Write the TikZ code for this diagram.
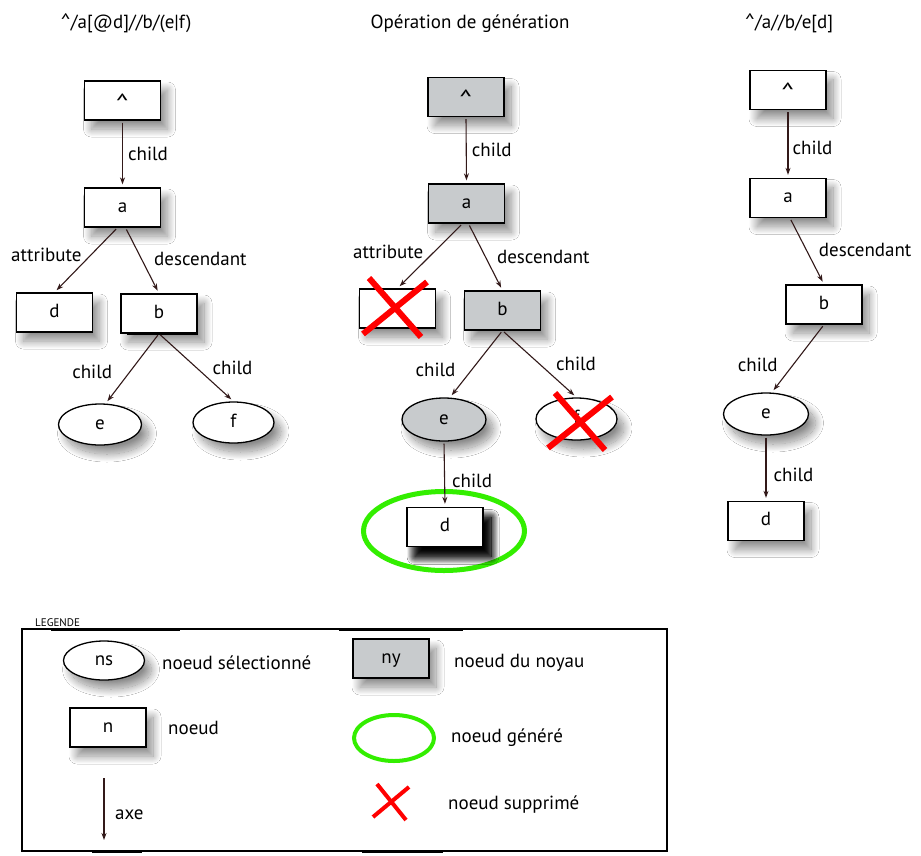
\documentclass[tikz,border=0pt]{standalone}
\usepackage{fontspec}
\setmainfont{PT Sans}
\usetikzlibrary{arrows.meta,shapes.geometric,shadows.blur}

\definecolor{nucleus}{RGB}{200,203,205}
\definecolor{gengreen}{RGB}{51,238,0}
\definecolor{delred}{RGB}{255,0,0}
\definecolor{axecol}{RGB}{50,25,25}

\tikzset{
  shade box/.style={blur shadow={shadow xshift=7pt, shadow yshift=-9pt,
      shadow blur radius=8pt, shadow blur steps=24, shadow opacity=45}},
  dark shade/.style={blur shadow={shadow xshift=8pt, shadow yshift=-10pt,
      shadow blur radius=8pt, shadow blur steps=24, shadow opacity=95}},
  nbox/.style={draw=black, line width=1.3pt, fill=white, minimum width=76pt,
      minimum height=39pt, inner sep=0pt, text height=9pt, text depth=0pt, shade box},
  nucbox/.style={nbox, fill=nucleus},
  sel/.style={ellipse, draw=black, line width=1.3pt, fill=white, minimum width=83pt,
      minimum height=41pt, inner sep=0pt, text height=9pt, text depth=0pt, shade box},
  nucsel/.style={sel, fill=nucleus},
  gen/.style={ellipse, draw=gengreen, line width=5pt, inner sep=0pt},
  axe/.style={draw=axecol, line width=1.1pt, -{Stealth[length=7pt,width=5pt]},
      shorten >=3pt, shorten <=2pt},
  lab/.style={inner sep=0pt},
  txt/.style={inner sep=0pt, anchor=base west},
  ttl/.style={inner sep=0pt, anchor=base},
  cross/.style={draw=delred, line width=6pt},
}

% the root symbol, widened and lowered to sit in the middle of a box
\newcommand{\caretsym}{\raisebox{-6pt}{\scalebox{1.45}[1.3]{\textasciicircum}}}
% the root symbol inside a path expression
\newcommand{\caretpath}{\scalebox{1.1}{\textasciicircum}}

\begin{document}
\begin{tikzpicture}[x=1pt, y=-1pt, font=\fontsize{19}{23}\selectfont]
\useasboundingbox (0,0) rectangle (921,855);
\fill[white] (0,0) rectangle (921,855);

% ---------- titles ----------
\node[ttl] (t1) at (126,28) {\caretpath/a[@d]//b/(e|f)};
\node[ttl] (t2) at (470,28) {Opération de génération};
\node[ttl] (t3) at (789,28) {\caretpath/a//b/e[d]};

% ---------- query tree ^/a[@d]//b/(e|f) ----------
\node[nbox] (L0) at (122.5,100.5) {\caretsym};
\node[nbox] (La) at (122.5,207.5) {a};
\node[nbox] (Ld) at (54.5,312.5) {d};
\node[nbox] (Lb) at (159,313.5) {b};
\node[sel] (Le) at (100,424.5) {e};
\node[sel, minimum width=81pt] (Lf) at (233.5,422.5) {f};
\draw[line width=2.6pt] ([xshift=7pt]Lb.south west) -- (Lb.south east);

\draw[axe] (L0.south) -- (La.north)
  node[lab, pos=.5, right, xshift=5pt] {child};
\draw[axe] ([xshift=-5pt]La.south) -- (Ld.north)
  node[lab, pos=.42, left, xshift=-9pt] {attribute};
\draw[axe] ([xshift=3pt]La.south) -- (Lb.north)
  node[lab, pos=.48, right, xshift=12pt] {descendant};
\draw[axe] (Lb.south) -- (Le.75)
  node[lab, pos=.55, left, xshift=-17pt] {child};
\draw[axe] (Lb.south) -- (Lf.north)
  node[lab, pos=.51, right, xshift=15pt] {child};

% ---------- generation operation ----------
\node[nucbox] (M0) at (466,97) {\caretsym};
\node[nucbox] (Ma) at (466.5,203.5) {a};
\node[nbox] (Mx) at (397.5,308.5) {};
\node[nucbox] (Mb) at (502.5,310.5) {b};
\node[nucsel, minimum width=84pt, minimum height=43pt] (Me) at (444,419.5) {e};
\node[sel, minimum width=81pt, minimum height=42pt] (Mf) at (576.5,419) {f};
\node[gen, minimum width=161pt, minimum height=79pt] (Mg) at (444,531) {};
\node[nbox, dark shade] (Md) at (445,527) {d};

\draw[axe] (M0.south) -- (Ma.north)
  node[lab, pos=.5, right, xshift=5pt] {child};
\draw[axe] ([xshift=-4pt]Ma.south) -- (Mx.north)
  node[lab, pos=.44, left, xshift=-10pt] {attribute};
\draw[axe] ([xshift=2pt]Ma.south) -- (Mb.north)
  node[lab, pos=.5, right, xshift=11pt] {descendant};
\draw[axe] (Mb.south) -- (Me.75)
  node[lab, pos=.58, left, xshift=-16pt] {child};
\draw[axe] (Mb.south) -- (Mf.north)
  node[lab, pos=.5, right, xshift=16pt] {child};
\draw[axe] (Me.south) -- (Md.north)
  node[lab, pos=.6, right, xshift=7pt] {child};

% deleted nodes
\draw[cross] ([shift={(-28.5,-30.5)}]Mx.center) -- ([shift={(23.5,28.5)}]Mx.center);
\draw[cross] ([shift={(29.5,-26.5)}]Mx.center) -- ([shift={(-34.5,25.5)}]Mx.center);
\draw[cross] ([shift={(-21.5,-26)}]Mf.center) -- ([shift={(28.5,31)}]Mf.center);
\draw[cross] ([shift={(35.5,-22)}]Mf.center) -- ([shift={(-28.5,29)}]Mf.center);

% ---------- resulting tree ^/a//b/e[d] ----------
\node[nbox] (R0) at (788,90) {\caretsym};
\node[nbox] (Ra) at (788,198) {a};
\node[nbox] (Rb) at (824,304.5) {b};
\node[sel, minimum width=85pt, minimum height=42pt] (Re) at (766,414) {e};
\node[nbox] (Rd) at (766,521) {d};

\draw[axe] (R0.south) -- (Ra.north)
  node[lab, pos=.55, right, xshift=4pt] {child};
\draw[axe] ([xshift=2pt]Ra.south) -- (Rb.north)
  node[lab, pos=.48, right, xshift=12pt] {descendant};
\draw[axe] (Rb.south) -- (Re.75)
  node[lab, pos=.59, left, xshift=-15pt] {child};
\draw[axe] (Re.south) -- (Rd.north)
  node[lab, pos=.6, right, xshift=7pt] {child};

% ---------- legend ----------
\node[txt, font=\fontsize{11}{13}\selectfont] (legtitle) at (35,626) {LEGENDE};
\draw[line width=1.2pt] (22,629) rectangle (667,851);
\draw[line width=3pt] (51,629) -- (180,629);
\draw[line width=3pt] (339,629) -- (463,629);
\draw[line width=3pt] (92,851) -- (142,851);
\draw[line width=3pt] (362,851) -- (443,851);

\node[sel, minimum width=81pt, minimum height=39pt] (Kns) at (104,660.5) {ns};
\node[txt] (Tns) at (162,669) {noeud sélectionné};
\node[nucbox] (Kny) at (391,658.5) {ny};
\node[txt] (Tny) at (454,667) {noeud du noyau};
\node[nbox] (Kn) at (108,727.5) {n};
\node[txt] (Tn) at (168,734) {noeud};
\node[gen, line width=4pt, minimum width=80pt, minimum height=46pt] (Kgen) at (394,738) {};
\node[txt] (Tgen) at (451,742) {noeud généré};
\coordinate (axtop) at (104,778);
\coordinate (axbot) at (104,840);
\draw[axe, shorten >=0pt, shorten <=0pt] (axtop) -- (axbot);
\node[txt] (Taxe) at (115,819) {axe};
\coordinate (Kx) at (391.5,802);
\draw[cross, line width=4pt] ([shift={(-14.5,-18)}]Kx) -- ([shift={(14.5,18)}]Kx);
\draw[cross, line width=4pt] ([shift={(17.5,-15)}]Kx) -- ([shift={(-18.5,15)}]Kx);
\node[txt] (Tx) at (448,809) {noeud supprimé};
\end{tikzpicture}
\end{document}
